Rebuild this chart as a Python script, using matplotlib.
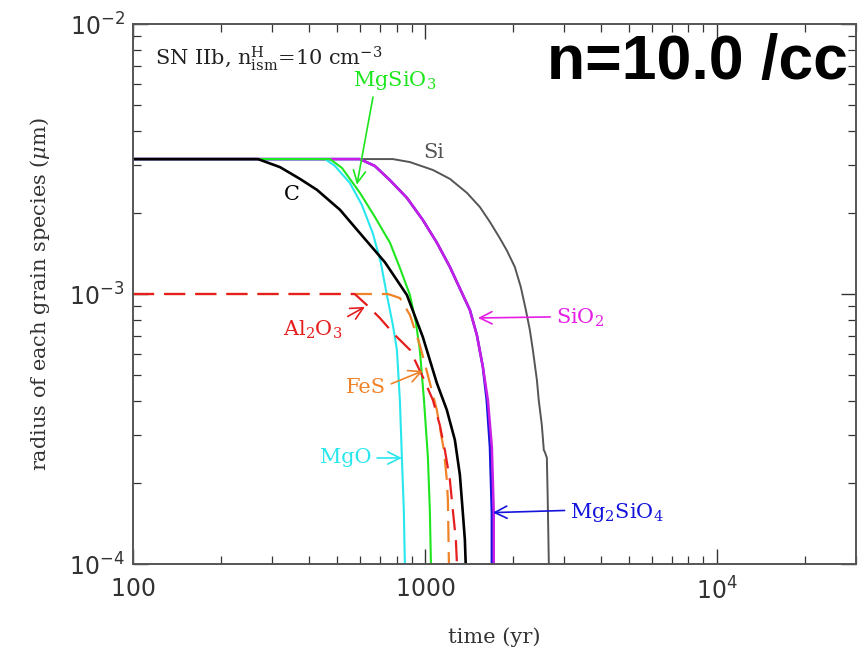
import numpy as np
import matplotlib
matplotlib.use("Agg")
import matplotlib.pyplot as plt
from matplotlib.ticker import LogLocator, NullFormatter

plt.rcParams["font.family"] = ["DejaVu Serif"]
plt.rcParams["mathtext.fontset"] = "dejavuserif"

# ---------------------------------------------------------------------------
# data (time in yr, radius in micron)
# ---------------------------------------------------------------------------
t_si = [100, 777, 889, 1065, 1218, 1393, 1543, 1670, 1806, 1909, 2033, 2132, 2218,
        2289, 2344, 2420, 2455, 2516, 2556, 2577, 2618, 2636, 2659]
r_si = [3.16e-3, 3.16e-3, 3.08e-3, 2.88e-3, 2.67e-3, 2.37e-3, 2.10e-3, 1.85e-3, 1.61e-3,
        1.45e-3, 1.26e-3, 1.06e-3, 8.73e-4, 7.36e-4, 6.21e-4, 4.80e-4, 4.05e-4, 3.27e-4,
        2.64e-4, 2.60e-4, 2.47e-4, 1.73e-4, 1.0e-4]

t_sio2 = [100, 599, 674, 759, 868, 984, 1099, 1218, 1328, 1426, 1507, 1580, 1644, 1696,
          1722, 1722]
r_sio2 = [3.16e-3, 3.16e-3, 2.98e-3, 2.64e-3, 2.27e-3, 1.88e-3, 1.55e-3, 1.26e-3, 1.03e-3,
          8.73e-4, 7.05e-4, 5.37e-4, 4.05e-4, 2.71e-4, 1.55e-4, 1.0e-4]

t_mg2sio4 = [100, 599, 674, 759, 868, 984, 1099, 1218, 1328, 1426, 1507, 1580, 1629, 1671,
             1696, 1696]
r_mg2sio4 = r_sio2

t_mgo = [100, 455, 492, 553, 608, 663, 706, 741, 777, 802, 821, 834, 847, 854]
r_mgo = [3.16e-3, 3.16e-3, 2.98e-3, 2.58e-3, 2.14e-3, 1.68e-3, 1.31e-3, 9.91e-4, 7.67e-4,
         6.21e-4, 4.05e-4, 2.49e-4, 1.58e-4, 1.0e-4]

t_mgsio3 = [100, 473, 520, 599, 674, 759, 821, 889, 931, 961, 993, 1024, 1040, 1049]
r_mgsio3 = [3.16e-3, 3.16e-3, 2.93e-3, 2.37e-3, 1.93e-3, 1.55e-3, 1.25e-3, 9.91e-4, 7.87e-4,
            6.21e-4, 4.05e-4, 2.49e-4, 1.58e-4, 1.0e-4]

t_fes = [100, 747, 821, 889, 961, 1024, 1099, 1162, 1189, 1199, 1209]
r_fes = [1.0e-3, 1.0e-3, 9.66e-4, 8.36e-4, 6.47e-4, 5.0e-4, 3.72e-4, 2.64e-4, 2.05e-4,
         1.73e-4, 1.0e-4]

t_al2o3 = [100, 575, 633, 701, 789, 889, 984, 1065, 1125, 1171, 1218, 1247, 1277, 1288]
r_al2o3 = [1.0e-3, 1.0e-3, 9.1e-4, 8.15e-4, 7.05e-4, 6.21e-4, 4.93e-4, 4.05e-4, 3.27e-4,
           2.64e-4, 2.05e-4, 1.58e-4, 1.23e-4, 1.0e-4]

t_c = [100, 268, 319, 373, 427, 512, 599, 730, 868, 984, 1099, 1189, 1267, 1318, 1349,
       1371, 1380]
r_c = [3.16e-3, 3.16e-3, 2.95e-3, 2.67e-3, 2.43e-3, 2.05e-3, 1.68e-3, 1.31e-3, 9.91e-4,
       6.93e-4, 4.68e-4, 3.72e-4, 2.88e-4, 2.14e-4, 1.55e-4, 1.23e-4, 1.0e-4]

# ---------------------------------------------------------------------------
# figure
# ---------------------------------------------------------------------------
fig = plt.figure(figsize=(8.65, 6.52), dpi=100)
ax = fig.add_axes([133 / 865, 1 - 564 / 652, 723 / 865, 540 / 652])

col_si = "#555555"
col_blue = "#1414dc"
col_mag = "#c81ee6"
col_cyan = "#28e6ee"
col_green = "#1ee61e"
col_orange = "#f08228"
col_red = "#e61e1e"

ax.plot(t_si, r_si, color=col_si, lw=1.4)
ax.plot(t_mg2sio4, r_mg2sio4, color=col_blue, lw=1.8)
ax.plot(t_sio2, r_sio2, color=col_mag, lw=1.8)
ax.plot(t_mgo, r_mgo, color=col_cyan, lw=1.5)
ax.plot(t_mgsio3, r_mgsio3, color=col_green, lw=1.5)
ax.plot(t_fes, r_fes, color=col_orange, lw=1.6, dashes=(9.5, 4.5))
ax.plot(t_al2o3, r_al2o3, color=col_red, lw=1.6, dashes=(9.5, 4.5))
ax.plot(t_c, r_c, color="black", lw=1.9)

ax.set_xscale("log")
ax.set_yscale("log")
ax.set_xlim(100, 3e4)
ax.set_ylim(1e-4, 1e-2)

ax.set_xticks([100, 1000, 1e4])
ax.set_xticklabels([r"$\mathsf{100}$", r"$\mathsf{1000}$", r"$\mathsf{10^4}$"])
ax.set_yticks([1e-4, 1e-3, 1e-2])
ax.set_yticklabels([r"$\mathsf{10^{-4}}$", r"$\mathsf{10^{-3}}$", r"$\mathsf{10^{-2}}$"])
ax.xaxis.set_minor_locator(LogLocator(base=10, subs=np.arange(2, 10)))
ax.yaxis.set_minor_locator(LogLocator(base=10, subs=np.arange(2, 10)))
ax.xaxis.set_minor_formatter(NullFormatter())
ax.yaxis.set_minor_formatter(NullFormatter())

ax.tick_params(which="both", direction="in", top=True, right=True, color="#333333")
ax.tick_params(which="major", length=11, width=1.0, labelsize=17, labelcolor="#333333")
ax.tick_params(axis="x", which="major", pad=10)
ax.tick_params(axis="y", which="major", pad=6)
ax.tick_params(which="minor", length=6, width=0.9)
for sp in ax.spines.values():
    sp.set_color("#555555")
    sp.set_linewidth(1.4)

ax.set_xlabel("time (yr)", fontsize=15, color="#333333", labelpad=16)
ax.set_ylabel(r"radius of each grain species ($\mu$m)", fontsize=15, color="#333333",
              labelpad=12)

# annotations
ax.text(0.03, 0.935, r"SN IIb, n$^{\rm H}_{\rm ism}$=10 cm$^{-3}$", transform=ax.transAxes,
        fontsize=15, color="#222222", va="center", ha="left")
ax.text(0.989, 0.928, "n=10.0 /cc", transform=ax.transAxes, family=["Liberation Sans"],
        fontsize=45, fontweight="bold", color="black", ha="right", va="center")

arrow = dict(arrowstyle="->", lw=1.2, mutation_scale=22, shrinkA=2, shrinkB=0)
ax.annotate(r"MgSiO$_3$", xy=(585, 2.54e-3), xytext=(789, 6.2e-3), color=col_green,
            fontsize=15, ha="center", va="center",
            arrowprops=dict(arrow, color=col_green, relpos=(0.25, 0)))
ax.text(1070, 3.33e-3, "Si", color="#555555", fontsize=15, ha="center", va="center")
ax.text(350, 2.33e-3, "C", color="black", fontsize=15, ha="center", va="center")
ax.annotate(r"SiO$_2$", xy=(1520, 8.15e-4), xytext=(3396, 8.15e-4), color="#e61ee6",
            fontsize=15, ha="center", va="center",
            arrowprops=dict(arrow, color="#e61ee6", relpos=(0, 0.55)))
ax.annotate(r"Al$_2$O$_3$", xy=(623, 8.96e-4), xytext=(413, 7.36e-4), color=col_red,
            fontsize=15, ha="center", va="center",
            arrowprops=dict(arrow, color=col_red, relpos=(0.85, 0.75)))
ax.annotate("FeS", xy=(984, 5.19e-4), xytext=(628, 4.49e-4), color=col_orange,
            fontsize=15, ha="center", va="center",
            arrowprops=dict(arrow, color=col_orange, relpos=(1, 0.6)))
ax.annotate("MgO", xy=(834, 2.47e-4), xytext=(536, 2.47e-4), color=col_cyan,
            fontsize=15, ha="center", va="center",
            arrowprops=dict(arrow, color=col_cyan, relpos=(1, 0.5)))
ax.annotate(r"Mg$_2$SiO$_4$", xy=(1710, 1.55e-4), xytext=(4550, 1.55e-4), color=col_blue,
            fontsize=15, ha="center", va="center",
            arrowprops=dict(arrow, color=col_blue, relpos=(0, 0.6)))

fig.savefig("out.png", dpi=100)
